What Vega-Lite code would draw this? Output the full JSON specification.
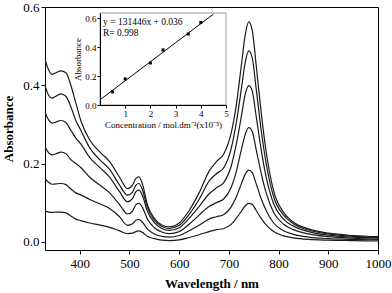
{
  "$schema": "https://vega.github.io/schema/vega-lite/v6.json",
  "width": 333,
  "height": 243,
  "autosize": "none",
  "padding": {"left": 45, "top": 7, "right": 14, "bottom": 43},
  "background": "white",
  "config": {
    "view": {"stroke": "black", "strokeWidth": 1},
    "font": "Liberation Serif",
    "axis": {
      "domainColor": "black", "tickColor": "black", "labelColor": "black", "titleColor": "black",
      "grid": false, "labelFont": "Liberation Serif", "titleFont": "Liberation Serif"
    }
  },
  "datasets": {
    "spectra": [
      {"w": 330, "c1": 0.467, "c2": 0.399, "c3": 0.331, "c4": 0.242, "c5": 0.162, "c6": 0.080},
      {"w": 337, "c1": 0.44, "c2": 0.375, "c3": 0.312, "c4": 0.228, "c5": 0.152, "c6": 0.076},
      {"w": 344, "c1": 0.428, "c2": 0.367, "c3": 0.303, "c4": 0.222, "c5": 0.147, "c6": 0.075},
      {"w": 352, "c1": 0.432, "c2": 0.372, "c3": 0.306, "c4": 0.225, "c5": 0.148, "c6": 0.076},
      {"w": 362, "c1": 0.437, "c2": 0.378, "c3": 0.31, "c4": 0.229, "c5": 0.149, "c6": 0.076},
      {"w": 372, "c1": 0.432, "c2": 0.372, "c3": 0.305, "c4": 0.225, "c5": 0.146, "c6": 0.074},
      {"w": 382, "c1": 0.40, "c2": 0.345, "c3": 0.285, "c4": 0.21, "c5": 0.135, "c6": 0.066},
      {"w": 392, "c1": 0.355, "c2": 0.31, "c3": 0.265, "c4": 0.2, "c5": 0.125, "c6": 0.058},
      {"w": 402, "c1": 0.31, "c2": 0.285, "c3": 0.25, "c4": 0.19, "c5": 0.12, "c6": 0.054},
      {"w": 420, "c1": 0.26, "c2": 0.24, "c3": 0.215, "c4": 0.165, "c5": 0.108, "c6": 0.048},
      {"w": 440, "c1": 0.23, "c2": 0.21, "c3": 0.19, "c4": 0.145, "c5": 0.097, "c6": 0.043},
      {"w": 460, "c1": 0.205, "c2": 0.185, "c3": 0.165, "c4": 0.125, "c5": 0.085, "c6": 0.037},
      {"w": 480, "c1": 0.165, "c2": 0.145, "c3": 0.128, "c4": 0.095, "c5": 0.064, "c6": 0.028},
      {"w": 496, "c1": 0.136, "c2": 0.119, "c3": 0.102, "c4": 0.071, "c5": 0.042, "c6": 0.021},
      {"w": 506, "c1": 0.145, "c2": 0.127, "c3": 0.11, "c4": 0.078, "c5": 0.046, "c6": 0.022},
      {"w": 513, "c1": 0.162, "c2": 0.145, "c3": 0.128, "c4": 0.095, "c5": 0.055, "c6": 0.026},
      {"w": 519, "c1": 0.166, "c2": 0.149, "c3": 0.132, "c4": 0.098, "c5": 0.057, "c6": 0.028},
      {"w": 526, "c1": 0.148, "c2": 0.133, "c3": 0.118, "c4": 0.088, "c5": 0.05, "c6": 0.024},
      {"w": 536, "c1": 0.095, "c2": 0.088, "c3": 0.078, "c4": 0.058, "c5": 0.033, "c6": 0.014},
      {"w": 550, "c1": 0.06, "c2": 0.055, "c3": 0.049, "c4": 0.036, "c5": 0.02, "c6": 0.008},
      {"w": 565, "c1": 0.043, "c2": 0.039, "c3": 0.034, "c4": 0.025, "c5": 0.014, "c6": 0.004},
      {"w": 580, "c1": 0.038, "c2": 0.034, "c3": 0.029, "c4": 0.021, "c5": 0.012, "c6": 0.003},
      {"w": 600, "c1": 0.048, "c2": 0.042, "c3": 0.036, "c4": 0.026, "c5": 0.016, "c6": 0.005},
      {"w": 620, "c1": 0.08, "c2": 0.07, "c3": 0.06, "c4": 0.045, "c5": 0.028, "c6": 0.011},
      {"w": 640, "c1": 0.125, "c2": 0.108, "c3": 0.09, "c4": 0.068, "c5": 0.042, "c6": 0.018},
      {"w": 660, "c1": 0.18, "c2": 0.155, "c3": 0.122, "c4": 0.09, "c5": 0.058, "c6": 0.026},
      {"w": 675, "c1": 0.205, "c2": 0.174, "c3": 0.138, "c4": 0.1, "c5": 0.064, "c6": 0.031},
      {"w": 690, "c1": 0.225, "c2": 0.19, "c3": 0.152, "c4": 0.11, "c5": 0.07, "c6": 0.034},
      {"w": 705, "c1": 0.28, "c2": 0.24, "c3": 0.195, "c4": 0.14, "c5": 0.09, "c6": 0.045},
      {"w": 715, "c1": 0.35, "c2": 0.305, "c3": 0.25, "c4": 0.18, "c5": 0.115, "c6": 0.06},
      {"w": 725, "c1": 0.45, "c2": 0.39, "c3": 0.32, "c4": 0.235, "c5": 0.148, "c6": 0.078},
      {"w": 733, "c1": 0.53, "c2": 0.46, "c3": 0.378, "c4": 0.275, "c5": 0.173, "c6": 0.092},
      {"w": 740, "c1": 0.562, "c2": 0.488, "c3": 0.399, "c4": 0.292, "c5": 0.183, "c6": 0.098},
      {"w": 747, "c1": 0.54, "c2": 0.47, "c3": 0.385, "c4": 0.282, "c5": 0.177, "c6": 0.095},
      {"w": 755, "c1": 0.45, "c2": 0.39, "c3": 0.32, "c4": 0.235, "c5": 0.148, "c6": 0.08},
      {"w": 765, "c1": 0.33, "c2": 0.285, "c3": 0.235, "c4": 0.175, "c5": 0.11, "c6": 0.06},
      {"w": 775, "c1": 0.23, "c2": 0.2, "c3": 0.165, "c4": 0.125, "c5": 0.08, "c6": 0.043},
      {"w": 790, "c1": 0.13, "c2": 0.115, "c3": 0.097, "c4": 0.075, "c5": 0.048, "c6": 0.026},
      {"w": 810, "c1": 0.075, "c2": 0.068, "c3": 0.058, "c4": 0.045, "c5": 0.028, "c6": 0.015},
      {"w": 830, "c1": 0.05, "c2": 0.046, "c3": 0.04, "c4": 0.031, "c5": 0.019, "c6": 0.01},
      {"w": 860, "c1": 0.033, "c2": 0.03, "c3": 0.026, "c4": 0.02, "c5": 0.012, "c6": 0.006},
      {"w": 900, "c1": 0.022, "c2": 0.02, "c3": 0.017, "c4": 0.013, "c5": 0.008, "c6": 0.004},
      {"w": 950, "c1": 0.016, "c2": 0.014, "c3": 0.012, "c4": 0.009, "c5": 0.006, "c6": 0.003},
      {"w": 1000, "c1": 0.013, "c2": 0.011, "c3": 0.01, "c4": 0.007, "c5": 0.005, "c6": 0.002}
    ],
    "points": [
      {"conc": 0.5, "abs": 0.09},
      {"conc": 1.0, "abs": 0.18},
      {"conc": 2.0, "abs": 0.29},
      {"conc": 2.5, "abs": 0.38},
      {"conc": 3.5, "abs": 0.49},
      {"conc": 4.0, "abs": 0.57}
    ],
    "fit": [
      {"conc": 0, "abs": 0.036},
      {"conc": 4.5, "abs": 0.627}
    ],
    "one": [{}]
  },
  "layer": [
    {
      "data": {"name": "spectra"},
      "transform": [{"fold": ["c1", "c2", "c3", "c4", "c5", "c6"], "as": ["series", "absorbance"]}],
      "mark": {"type": "line", "interpolate": "monotone", "color": "#1a1a1a", "strokeWidth": 1.2, "clip": true},
      "encoding": {
        "x": {
          "field": "w", "type": "quantitative",
          "scale": {"domain": [330, 1000], "nice": false, "zero": false},
          "axis": {"title": "Wavelength / nm", "orient": "bottom", "values": [400, 500, 600, 700, 800, 900, 1000], "format": "d",
                   "labelFontSize": 13, "titleFontSize": 13, "titleFontWeight": "bold",
                   "tickSize": 4, "labelPadding": 3, "titlePadding": 7, "domain": false, "labelFlush": false}
        },
        "y": {
          "field": "absorbance", "type": "quantitative",
          "scale": {"domain": [-0.021, 0.6], "nice": false, "zero": false},
          "axis": {"title": "Absorbance", "orient": "left", "values": [0, 0.2, 0.4, 0.6], "format": ".1f",
                   "labelFontSize": 13, "titleFontSize": 13, "titleFontWeight": "bold",
                   "tickSize": 4, "labelPadding": 2, "titlePadding": 7, "domain": false}
        },
        "detail": {"field": "series", "type": "nominal"}
      }
    },
    {
      "layer": [
        {
          "data": {"name": "one"},
          "mark": {"type": "rect", "fill": "white", "stroke": "#999999", "strokeWidth": 1},
          "encoding": {
            "x": {"datum": 0, "type": "quantitative", "scale": {"domain": [0, 5], "range": [55, 181], "nice": false, "zero": false}},
            "x2": {"datum": 5},
            "y": {"datum": 0, "type": "quantitative", "scale": {"domain": [0, 0.635], "range": [98, 6], "nice": false, "zero": false}},
            "y2": {"datum": 0.635}
          }
        },
        {
          "data": {"name": "fit"},
          "mark": {"type": "line", "color": "black", "strokeWidth": 1},
          "encoding": {
            "x": {"field": "conc", "type": "quantitative"},
            "y": {"field": "abs", "type": "quantitative"}
          }
        },
        {
          "data": {"name": "points"},
          "mark": {"type": "point", "shape": "square", "filled": true, "color": "black", "size": 9, "opacity": 1},
          "encoding": {
            "x": {"field": "conc", "type": "quantitative",
                  "axis": {"title": "Concentration / mol.dm⁻³(x10⁻⁵)", "orient": "bottom", "values": [1, 2, 3, 4, 5], "format": "d",
                           "offset": -145, "zindex": 2, "labelFontSize": 9, "titleFontSize": 9, "titleFontWeight": "normal",
                           "tickSize": 3, "labelPadding": 1, "titlePadding": 2, "labelFlush": false}},
            "y": {"field": "abs", "type": "quantitative",
                  "axis": {"title": "Absorbance", "orient": "left", "values": [0, 0.2, 0.4, 0.6], "format": ".1f",
                           "offset": -55, "zindex": 2, "labelFontSize": 9, "titleFontSize": 9, "titleFontWeight": "normal",
                           "tickSize": 3, "labelPadding": 1, "titlePadding": 2}}
          }
        },
        {
          "data": {"name": "one"},
          "mark": {"type": "text", "align": "left", "baseline": "middle", "fontSize": 9.5, "font": "Liberation Serif", "color": "black"},
          "encoding": {
            "x": {"datum": 0.12, "type": "quantitative"},
            "y": {"datum": 0.575, "type": "quantitative"},
            "text": {"value": "y = 131446x + 0.036"}
          }
        },
        {
          "data": {"name": "one"},
          "mark": {"type": "text", "align": "left", "baseline": "middle", "fontSize": 9.5, "font": "Liberation Serif", "color": "black"},
          "encoding": {
            "x": {"datum": 0.12, "type": "quantitative"},
            "y": {"datum": 0.495, "type": "quantitative"},
            "text": {"value": "R= 0.998"}
          }
        }
      ]
    }
  ],
  "resolve": {"scale": {"x": "independent", "y": "independent"}, "axis": {"x": "independent", "y": "independent"}}
}
